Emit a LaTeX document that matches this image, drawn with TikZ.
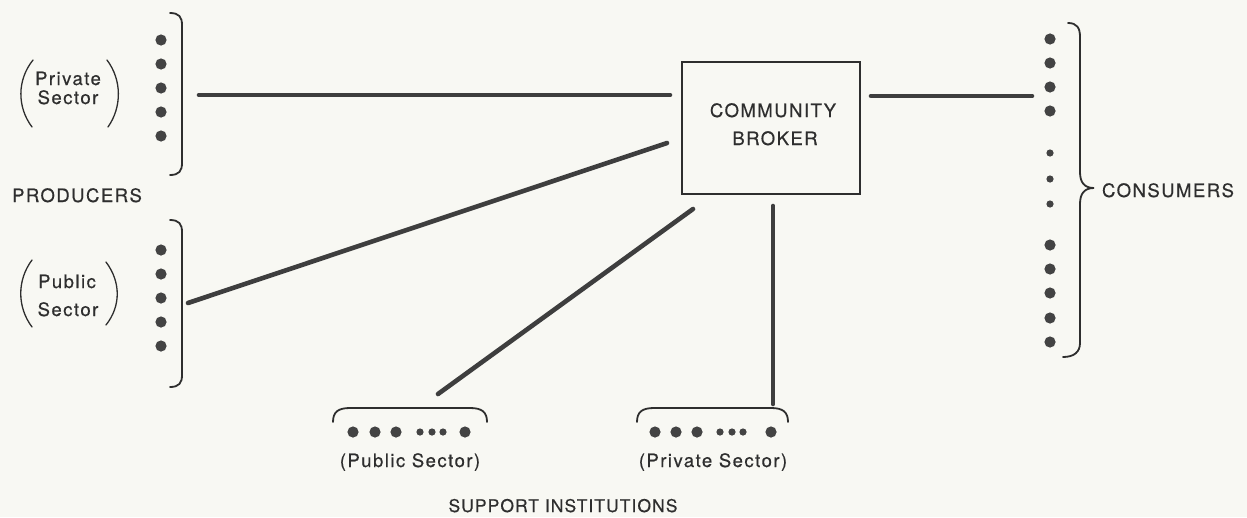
\documentclass[tikz,border=0pt]{standalone}
\usepackage{fontspec}
\setmainfont{TeX Gyre Heros}[LetterSpace=8,FakeBold=0.5]
\newfontfamily\narrowlabel{TeX Gyre Heros}[LetterSpace=6,FakeBold=0.5]
\begin{document}
\definecolor{paper}{HTML}{F8F8F3}
\definecolor{ink}{HTML}{2E2E2E}
\definecolor{link}{HTML}{3E3E3E}
\begin{tikzpicture}[x=1pt,y=-1pt,
  lbl/.style={inner sep=0pt,anchor=base,text=ink,font=\fontsize{18.5}{21}\selectfont},
  lblsmall/.style={lbl,font=\narrowlabel\fontsize{17.5}{20}\selectfont},
  brokerbox/.style={draw=ink,line width=2pt,minimum width=178pt,minimum height=132pt,inner sep=0pt},
  tie/.style={draw=link,line width=4.6pt,line cap=round},
  brk/.style={draw=ink,line width=1.8pt,line cap=round},
  par/.style={draw=ink,line width=1.3pt,line cap=round},
  bigdot/.style={fill=ink!90,draw=none},
  smalldot/.style={fill=ink!90,draw=none}]
\useasboundingbox[fill=paper] (0,0) rectangle (1247,517);

% central broker
\node[brokerbox] (broker) at (771,128) {};
\node[lbl] (t1) at (773,117) {COMMUNITY};
\node[lbl] (t2) at (775,145) {BROKER};

% producers: private sector
\draw[par] (33,60) .. controls (17,80) and (17,107) .. (32,127);
\draw[par] (107,60) .. controls (122,80) and (122,107) .. (108,127);
\node[lbl] (pp1) at (68,85) {Private};
\node[lbl] (pp2) at (68,104) {Sector};
\foreach \y in {40,64,88,112,136} \fill[bigdot] (161,\y) circle (5.6);
\draw[brk] (170,13) .. controls (179,13) and (182,17) .. (182,25) -- (182,163)
  .. controls (182,171) and (179,175) .. (170,175);

\node[lbl] (prod) at (77,202) {PRODUCERS};

% producers: public sector
\draw[par] (32,260) .. controls (17,280) and (17,307) .. (32,327);
\draw[par] (106,262) .. controls (121,282) and (121,306) .. (106,325);
\node[lbl] (pb1) at (67,288) {Public};
\node[lbl] (pb2) at (68,316) {Sector};
\foreach \y in {250,274,298,322,346} \fill[bigdot] (161,\y) circle (5.6);
\draw[brk] (170,220) .. controls (179,220) and (182,224) .. (182,232) -- (182,375)
  .. controls (182,383) and (179,387) .. (170,387);

% consumers
\foreach \y in {39,63,87,111,245,269,293,318,342} \fill[bigdot] (1050,\y) circle (5.6);
\foreach \y in {153,179,204} \fill[smalldot] (1050,\y) circle (3.6);
\draw[brk] (1068,23) .. controls (1077,23) and (1080,28) .. (1080,37) -- (1080,172)
  .. controls (1080,182) and (1084,188) .. (1094,188)
  .. controls (1084,188) and (1080,194) .. (1080,204) -- (1080,343)
  .. controls (1080,352) and (1074,357) .. (1063,357);
\node[lbl] (cons) at (1168,197) {CONSUMERS};

% support institutions
\draw[brk] (333,422) .. controls (333,412) and (338,408) .. (350,408) -- (470,408)
  .. controls (482,408) and (487,412) .. (487,422);
\foreach \x in {353,375,396,465} \fill[bigdot] (\x,432) circle (5.6);
\foreach \x in {420,432,443} \fill[smalldot] (\x,432) circle (3.6);
\node[lbl] (sp1) at (410,467) {(Public Sector)};

\draw[brk] (637,422) .. controls (637,412) and (642,408) .. (654,408) -- (771,408)
  .. controls (783,408) and (788,412) .. (788,422);
\foreach \x in {655,676,697,771} \fill[bigdot] (\x,432) circle (5.6);
\foreach \x in {720,732,743} \fill[smalldot] (\x,432) circle (3.6);
\node[lbl] (sp2) at (713,467) {(Private Sector)};

\node[lblsmall] (sup) at (563,512) {SUPPORT INSTITUTIONS};

% connector end points
\coordinate (pa) at (199,95);
\coordinate (pb) at (670,95);
\coordinate (qa) at (188,303);
\coordinate (qb) at (667,143);
\coordinate (ra) at (438,394);
\coordinate (rb) at (693,209);
\coordinate (sa) at (773,206);
\coordinate (sb) at (773,404);
\coordinate (ca) at (871,96);
\coordinate (cb) at (1032,96);

\draw[tie] (pa) -- (pb);
\draw[tie] (qa) -- (qb);
\draw[tie] (ra) -- (rb);
\draw[tie] (sa) -- (sb);
\draw[tie] (ca) -- (cb);
\end{tikzpicture}
\end{document}
